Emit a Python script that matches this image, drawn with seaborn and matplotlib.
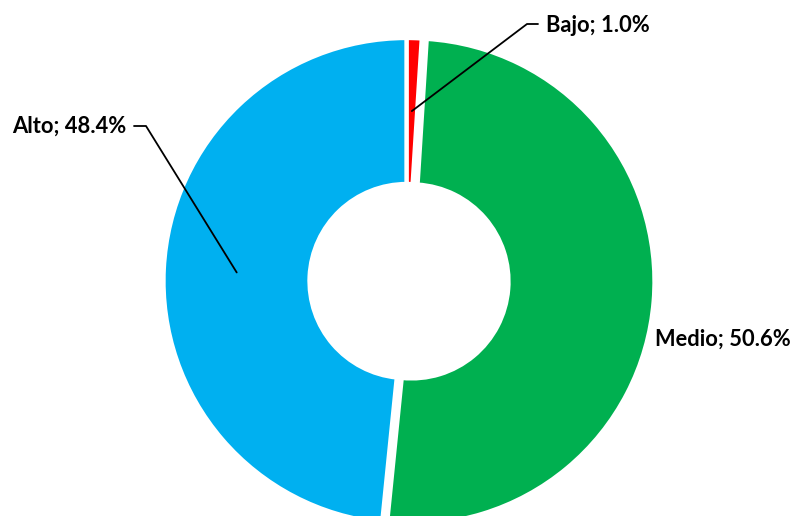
import matplotlib
matplotlib.use("Agg")
import matplotlib.pyplot as plt
import seaborn as sns
import numpy as np

categories = ["Bajo", "Medio", "Alto"]
values = [1.0, 50.6, 48.4]
colors = ["#FF0000", "#00B050", "#00B0F0"]

sns.set_theme(style="white")
plt.rcParams['font.family'] = ['Lato', 'DejaVu Sans']

W, H = 794, 516
fig = plt.figure(figsize=(W / 100, H / 100), dpi=100)
ax = fig.add_axes([0, 0, 1, 1])

cx, cy = 406.5, H - 281
R = 243
ring = 146

wedges, _ = ax.pie(values, colors=colors, startangle=90, counterclock=False,
                   radius=R, center=(cx, cy), explode=[0, 5, 0],
                   wedgeprops=dict(width=ring, edgecolor="white", linewidth=3.1))
ax.set_xlim(0, W)
ax.set_ylim(0, H)
ax.set_aspect("equal")
ax.axis("off")

# font size fitted to label width
fs = 12
t = fig.text(0, 0, "Medio; 50.6%", fontsize=fs, fontweight="bold")
fig.canvas.draw()
w = t.get_window_extent().width
t.remove()
fs = fs * 135 / w

labels = [f"{c}; {v:.1f}%" for c, v in zip(categories, values)]

# anchor points on mid-angle
total = sum(values)
start = 90.0
mids = []
for v in values:
    span = 360 * v / total
    mids.append(start - span / 2)
    start -= span
anchors = [(cx + 170 * np.cos(np.radians(m)), cy + 170 * np.sin(np.radians(m))) for m in mids]

# Bajo
ax.plot([anchors[0][0], 527, 538], [anchors[0][1], H - 24, H - 24], color="black", lw=1.3)
ax.text(546, H - 25, labels[0], fontsize=fs, fontweight="bold", ha="left", va="center", color="black")
# Medio
ax.text(655, H - 339, labels[1], fontsize=fs, fontweight="bold", ha="left", va="center", color="black")
# Alto
ax.plot([anchors[2][0], 146, 134], [anchors[2][1], H - 126, H - 126], color="black", lw=1.3)
ax.text(126, H - 126, labels[2], fontsize=fs, fontweight="bold", ha="right", va="center", color="black")

fig.savefig("out.png", dpi=100, facecolor="white")
